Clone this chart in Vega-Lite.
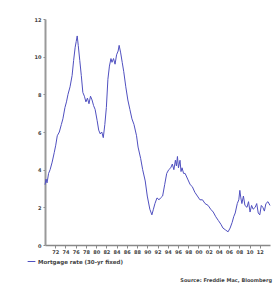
{
  "$schema": "https://vega.github.io/schema/vega-lite/v6.json",
  "autosize": "none",
  "width": 225,
  "height": 226,
  "padding": {"left": 45, "top": 19, "right": 3, "bottom": 38},
  "background": "white",
  "config": {"view": {"stroke": null}, "font": "DejaVu Sans"},
  "title": {"text": "Source: Freddie Mac, Bloomberg", "orient": "bottom", "anchor": "end", "fontSize": 5, "fontWeight": "bold", "color": "#444", "offset": 13, "baseline": "top"},
  "data": {"values": [
    {"t":1970.0,"v":3.2},{"t":1970.2,"v":3.5},{"t":1970.4,"v":3.3},{"t":1970.7,"v":3.8},{"t":1971.0,"v":4.0},{"t":1971.4,"v":4.4},{"t":1971.8,"v":4.9},{"t":1972.1,"v":5.3},{"t":1972.4,"v":5.8},{"t":1972.8,"v":6.0},{"t":1973.2,"v":6.4},{"t":1973.5,"v":6.7},{"t":1973.9,"v":7.3},{"t":1974.2,"v":7.6},{"t":1974.5,"v":8.0},{"t":1974.9,"v":8.4},{"t":1975.3,"v":9.0},{"t":1975.6,"v":9.8},{"t":1975.9,"v":10.5},{"t":1976.1,"v":10.8},{"t":1976.3,"v":11.1},{"t":1976.5,"v":10.6},{"t":1976.8,"v":9.8},{"t":1977.1,"v":9.0},{"t":1977.4,"v":8.1},{"t":1977.7,"v":7.9},{"t":1978.0,"v":7.6},{"t":1978.3,"v":7.8},{"t":1978.6,"v":7.5},{"t":1978.9,"v":7.9},{"t":1979.2,"v":7.7},{"t":1979.5,"v":7.4},{"t":1979.8,"v":7.2},{"t":1980.2,"v":6.6},{"t":1980.5,"v":6.1},{"t":1980.8,"v":5.9},{"t":1981.1,"v":6.0},{"t":1981.4,"v":5.7},{"t":1981.7,"v":6.4},{"t":1982.0,"v":7.3},{"t":1982.3,"v":8.8},{"t":1982.6,"v":9.5},{"t":1982.9,"v":9.9},{"t":1983.1,"v":9.7},{"t":1983.4,"v":9.9},{"t":1983.7,"v":9.6},{"t":1984.0,"v":10.1},{"t":1984.3,"v":10.3},{"t":1984.5,"v":10.6},{"t":1984.8,"v":10.2},{"t":1985.1,"v":9.7},{"t":1985.4,"v":9.2},{"t":1985.8,"v":8.4},{"t":1986.2,"v":7.7},{"t":1986.6,"v":7.2},{"t":1987.0,"v":6.7},{"t":1987.4,"v":6.4},{"t":1987.9,"v":5.8},{"t":1988.2,"v":5.2},{"t":1988.7,"v":4.6},{"t":1989.1,"v":4.0},{"t":1989.6,"v":3.4},{"t":1990.0,"v":2.6},{"t":1990.5,"v":1.9},{"t":1990.9,"v":1.6},{"t":1991.2,"v":1.9},{"t":1991.5,"v":2.2},{"t":1991.9,"v":2.5},{"t":1992.3,"v":2.4},{"t":1992.6,"v":2.5},{"t":1993.0,"v":2.6},{"t":1993.4,"v":3.2},{"t":1993.8,"v":3.8},{"t":1994.2,"v":4.0},{"t":1994.6,"v":4.1},{"t":1994.9,"v":4.3},{"t":1995.2,"v":4.0},{"t":1995.5,"v":4.5},{"t":1995.7,"v":4.2},{"t":1995.9,"v":4.7},{"t":1996.1,"v":4.1},{"t":1996.4,"v":4.5},{"t":1996.6,"v":3.9},{"t":1996.8,"v":4.1},{"t":1997.1,"v":3.8},{"t":1997.4,"v":3.8},{"t":1997.9,"v":3.5},{"t":1998.4,"v":3.2},{"t":1998.8,"v":3.1},{"t":1999.3,"v":2.8},{"t":1999.8,"v":2.6},{"t":2000.3,"v":2.4},{"t":2000.8,"v":2.4},{"t":2001.3,"v":2.2},{"t":2001.9,"v":2.1},{"t":2002.4,"v":1.9},{"t":2002.9,"v":1.75},{"t":2003.4,"v":1.5},{"t":2003.9,"v":1.3},{"t":2004.4,"v":1.1},{"t":2004.8,"v":0.9},{"t":2005.3,"v":0.8},{"t":2005.8,"v":0.7},{"t":2006.2,"v":0.9},{"t":2006.6,"v":1.2},{"t":2006.9,"v":1.5},{"t":2007.2,"v":1.7},{"t":2007.6,"v":2.2},{"t":2007.9,"v":2.4},{"t":2008.1,"v":2.9},{"t":2008.3,"v":2.5},{"t":2008.5,"v":2.2},{"t":2008.8,"v":2.6},{"t":2009.1,"v":2.1},{"t":2009.5,"v":2.0},{"t":2009.8,"v":2.3},{"t":2010.1,"v":1.75},{"t":2010.4,"v":2.1},{"t":2010.7,"v":1.9},{"t":2011.1,"v":2.0},{"t":2011.4,"v":2.2},{"t":2011.7,"v":1.7},{"t":2012.0,"v":1.6},{"t":2012.3,"v":2.1},{"t":2012.6,"v":2.0},{"t":2012.9,"v":1.8},{"t":2013.2,"v":2.2},{"t":2013.6,"v":2.3},{"t":2014.0,"v":2.1}
  ]},
  "transform": [{"calculate": "'Mortgage rate (30-yr fixed)'", "as": "series"}],
  "mark": {"type": "line", "strokeWidth": 1, "interpolate": "linear"},
  "encoding": {
    "x": {"field": "t", "type": "quantitative", "scale": {"domain": [1970, 2014], "nice": false, "zero": false},
      "axis": {"title": null, "values": [1972,1974,1976,1978,1980,1982,1984,1986,1988,1990,1992,1994,1996,1998,2000,2002,2004,2006,2008,2010,2012],
        "labelExpr": "slice(toString(datum.value), 2)", "labelFontSize": 5, "labelColor": "#444", "labelFontWeight": "bold", "labelPadding": 1, "tickSize": 3, "tickColor": "#888", "domainColor": "#888", "domainWidth": 1.5, "grid": false, "labelOverlap": false}},
    "y": {"field": "v", "type": "quantitative", "scale": {"domain": [0, 12], "nice": false},
      "axis": {"title": null, "values": [0,2,4,6,8,10,12], "labelFontSize": 5, "labelColor": "#444", "labelFontWeight": "bold", "tickSize": 2, "tickColor": "#888", "domainColor": "#999", "domainWidth": 2, "grid": false, "labelPadding": 2}},
    "color": {"field": "series", "type": "nominal", "scale": {"range": ["#5050c0"]},
      "legend": {"title": null, "orient": "none", "legendX": -18, "legendY": 238, "symbolType": "stroke", "symbolSize": 60, "symbolStrokeWidth": 1, "labelFontSize": 5.5, "labelColor": "#444", "labelFontWeight": "bold", "padding": 0, "labelOffset": 2}}
  }
}
